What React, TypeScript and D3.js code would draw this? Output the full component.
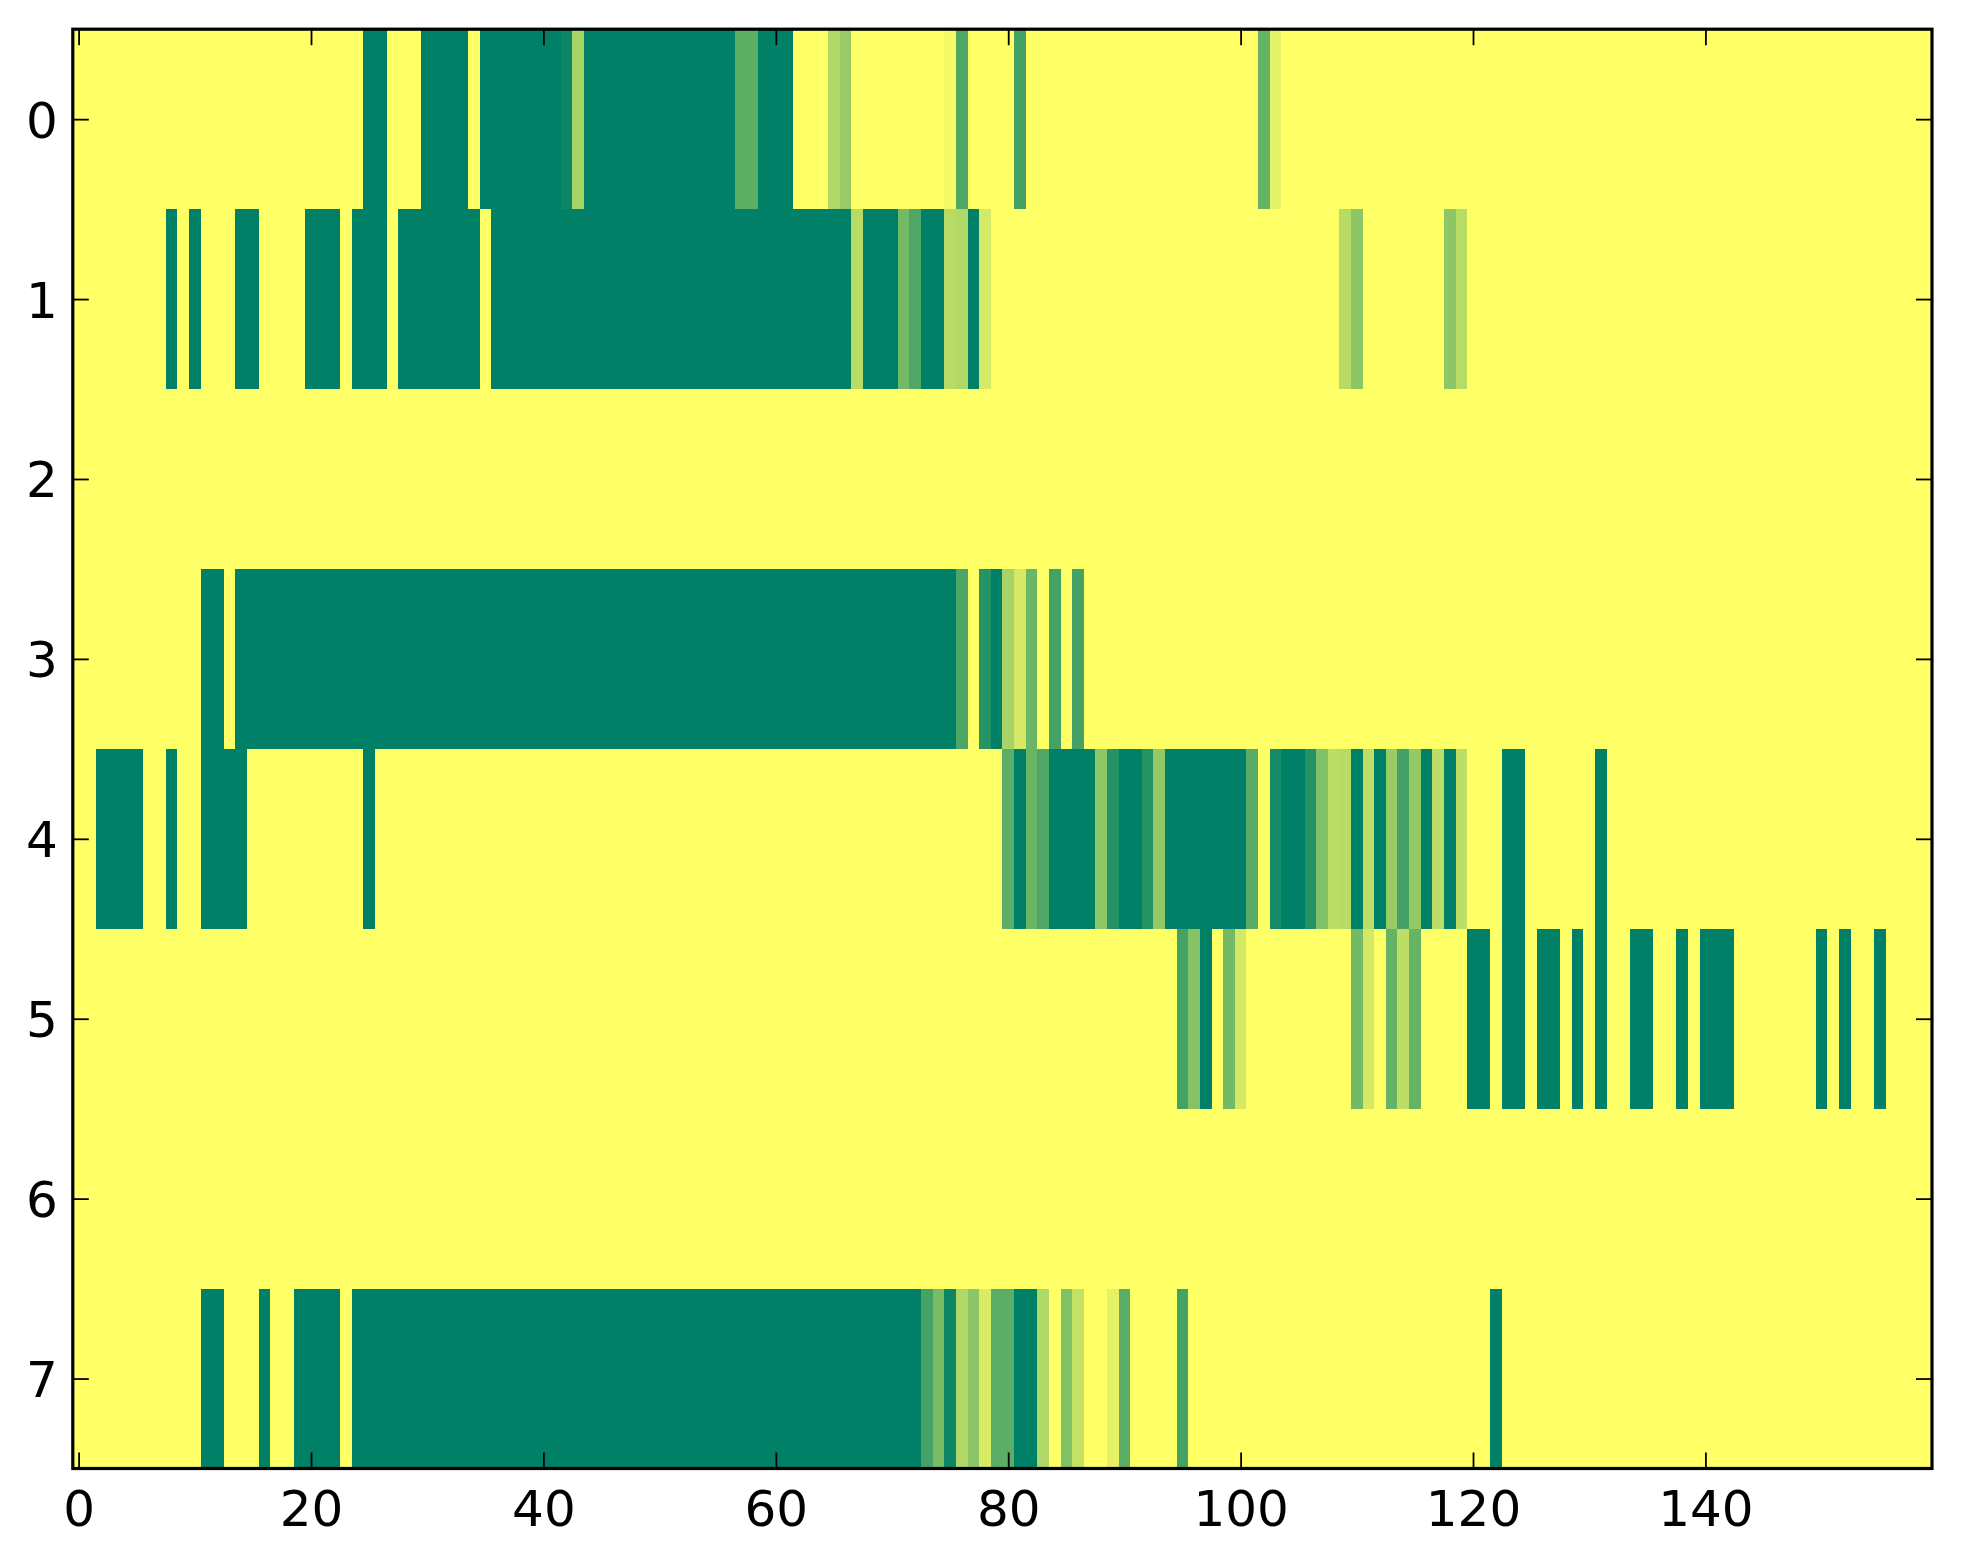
import React, { useEffect, useRef } from 'react';
import * as d3 from 'd3';

// each row: runs of [firstCol, lastCol, value], value 0 = yellow, 1 = dark green
const row0: [number, number, number][] = [[25, 26, 1], [30, 33, 1], [35, 41, 1], [42, 42, 0.95], [43, 43, 0.34], [44, 56, 1], [57, 58, 0.63], [59, 61, 1], [65, 65, 0.31], [66, 66, 0.4], [75, 75, 0.04], [76, 76, 0.69], [81, 81, 0.73], [102, 102, 0.61], [103, 103, 0.1]];
const row1: [number, number, number][] = [[8, 8, 1], [10, 10, 1], [14, 15, 1], [20, 22, 1], [24, 26, 1], [28, 34, 1], [36, 66, 1], [67, 67, 0.28], [68, 70, 1], [71, 71, 0.55], [72, 72, 0.69], [73, 74, 1], [75, 75, 0.28], [76, 76, 0.31], [77, 77, 1], [78, 78, 0.17], [109, 109, 0.28], [110, 110, 0.45], [118, 118, 0.45], [119, 119, 0.28]];
const row2: [number, number, number][] = [];
const row3: [number, number, number][] = [[11, 12, 1], [14, 75, 1], [76, 76, 0.7], [78, 78, 0.85], [79, 79, 1], [80, 80, 0.34], [81, 81, 0.17], [82, 82, 0.58], [84, 84, 0.73], [86, 86, 0.73]];
const row4: [number, number, number][] = [[2, 5, 1], [8, 8, 1], [11, 14, 1], [25, 25, 1], [80, 80, 0.64], [81, 81, 1], [82, 82, 0.58], [83, 83, 0.69], [84, 87, 1], [88, 88, 0.44], [89, 89, 0.85], [90, 91, 1], [92, 92, 0.85], [93, 93, 0.42], [94, 100, 1], [101, 101, 0.65], [103, 103, 0.92], [104, 105, 1], [106, 106, 0.85], [107, 107, 0.5], [108, 108, 0.26], [109, 109, 0.28], [110, 110, 1], [111, 111, 0.26], [112, 112, 1], [113, 113, 0.4], [114, 114, 0.73], [115, 115, 0.42], [116, 116, 1], [117, 117, 0.26], [118, 118, 1], [119, 119, 0.26], [123, 124, 1], [131, 131, 1]];
const row5: [number, number, number][] = [[95, 95, 0.73], [96, 96, 0.48], [97, 97, 1], [99, 99, 0.55], [100, 100, 0.17], [110, 110, 0.55], [111, 111, 0.17], [113, 113, 0.6], [114, 114, 0.26], [115, 115, 0.6], [120, 121, 1], [123, 124, 1], [126, 127, 1], [129, 129, 1], [131, 131, 1], [134, 135, 1], [138, 138, 1], [140, 142, 1], [150, 150, 1], [152, 152, 1], [155, 155, 1]];
const row6: [number, number, number][] = [];
const row7: [number, number, number][] = [[11, 12, 1], [16, 16, 1], [19, 22, 1], [24, 72, 1], [73, 73, 0.73], [74, 74, 0.53], [75, 75, 0.95], [76, 76, 0.31], [77, 77, 0.45], [78, 78, 0.15], [79, 80, 0.64], [81, 82, 1], [83, 83, 0.31], [85, 85, 0.5], [86, 86, 0.23], [89, 89, 0.1], [90, 90, 0.64], [95, 95, 0.73], [122, 122, 1]];

const rows = [row0, row1, row2, row3, row4, row5, row6, row7];
const nCols = 160;
const xTicks = [0, 20, 40, 60, 80, 100, 120, 140];
const yTicks = [0, 1, 2, 3, 4, 5, 6, 7];

const App: React.FC = () => {
    const svgRef = useRef<SVGSVGElement>(null);

    useEffect(() => {
        document.body.style.margin = '0';
        d3.select(svgRef.current).selectAll('*').remove();

        const width = 1963;
        const height = 1564;
        const left = 72.8, right = 1932, top = 29.2, bottom = 1468.5;

        const svg = d3.select(svgRef.current)
            .attr('width', width)
            .attr('height', height)
            .style('display', 'block')
            .style('background', '#ffffff');

        const x = d3.scaleLinear().domain([-0.5, nCols - 0.5]).range([left, right]);
        const y = d3.scaleLinear().domain([-0.5, rows.length - 0.5]).range([top, bottom]);

        // summer_r colormap
        const color = d3.scaleLinear<string>().domain([0, 1]).range(['#ffff66', '#008066']).interpolate(d3.interpolateRgb);

        // build cells from runs
        const cells: { r: number; c: number; v: number }[] = [];
        rows.forEach((runs, r) => {
            const line = new Array(nCols).fill(0);
            runs.forEach(([a, b, v]) => {
                for (let c = a; c <= b; c++) line[c] = v;
            });
            line.forEach((v, c) => cells.push({ r, c, v }));
        });

        svg.append('g')
            .attr('shape-rendering', 'crispEdges')
            .selectAll('rect')
            .data(cells)
            .enter()
            .append('rect')
            .attr('x', d => x(d.c - 0.5))
            .attr('y', d => y(d.r - 0.5))
            .attr('width', d => x(d.c + 0.5) - x(d.c - 0.5) + 0.5)
            .attr('height', d => y(d.r + 0.5) - y(d.r - 0.5) + 0.5)
            .attr('fill', d => color(d.v));

        const tickLen = 16;
        const font = 'DejaVu Sans';

        // axes, ticks pointing inward on all four sides
        const bottomAxis = svg.append('g').attr('transform', `translate(0,${bottom})`)
            .call(d3.axisBottom(x).tickValues(xTicks).tickSize(-tickLen).tickFormat(d3.format('d')));
        const topAxis = svg.append('g').attr('transform', `translate(0,${top})`)
            .call(d3.axisTop(x).tickValues(xTicks).tickSize(-tickLen).tickFormat(() => ''));
        const leftAxis = svg.append('g').attr('transform', `translate(${left},0)`)
            .call(d3.axisLeft(y).tickValues(yTicks).tickSize(-tickLen).tickPadding(15).tickFormat(d3.format('d')));
        const rightAxis = svg.append('g').attr('transform', `translate(${right},0)`)
            .call(d3.axisRight(y).tickValues(yTicks).tickSize(-tickLen).tickFormat(() => ''));

        [bottomAxis, topAxis, leftAxis, rightAxis].forEach(g => {
            g.select('.domain').remove();
            g.selectAll('.tick line').attr('stroke', '#000').attr('stroke-width', 1.8);
            g.selectAll('text')
                .attr('font-family', font)
                .attr('font-size', 50)
                .attr('fill', '#000');
        });
        bottomAxis.selectAll('text').attr('dy', '0.71em').attr('y', 22);
        leftAxis.selectAll('text').attr('dy', '0.36em');

        svg.append('rect')
            .attr('x', left)
            .attr('y', top)
            .attr('width', right - left)
            .attr('height', bottom - top)
            .attr('fill', 'none')
            .attr('stroke', '#000')
            .attr('stroke-width', 3.2);
    }, []);

    return <svg ref={svgRef}></svg>;
};

export default App;
